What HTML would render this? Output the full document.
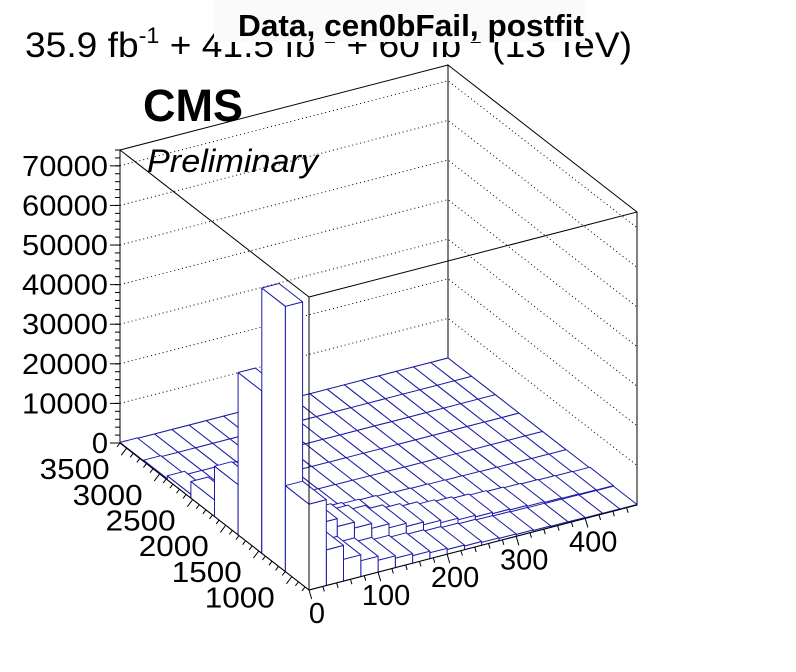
<!DOCTYPE html>
<html><head><meta charset="utf-8"><style>
body{margin:0;background:#fff;}
svg{display:block;font-family:"Liberation Sans",sans-serif;}
</style></head><body>
<svg id="c" width="796" height="672">
<text x="25" y="57" font-size="35" textLength="607" lengthAdjust="spacingAndGlyphs">35.9 fb<tspan dy="-14" font-size="22">-1</tspan><tspan dy="14"> + 41.5 fb</tspan><tspan dy="-14" font-size="22">-1</tspan><tspan dy="14"> + 60 fb</tspan><tspan dy="-14" font-size="22">-1</tspan><tspan dy="14"> (13 TeV)</tspan></text>
<rect x="214" y="0" width="371" height="42" fill="#fafafa"/>
<text x="238" y="36" font-size="31" font-weight="bold" textLength="346" lengthAdjust="spacingAndGlyphs">Data, cen0bFail, postfit</text>
<g id="box"></g>
<g id="bars"></g>
<g id="axes"></g>
<text x="143" y="121" font-size="45" font-weight="bold" textLength="100" lengthAdjust="spacingAndGlyphs">CMS</text>
<text x="147" y="172" font-size="32" font-style="italic" textLength="171" lengthAdjust="spacingAndGlyphs">Preliminary</text>
</svg>
<script>
// data
const xTicks=[0,100,200,300,400];
const yTicks=[1000,1500,2000,2500,3000,3500];
const zTicks=[0,10000,20000,30000,40000,50000,60000,70000];
const nX=19, xMin=0, xMax=475;
const nY=8, yMin=740, yMax=3600;
const zMax=74000;
const row0=[21700,9000,5500,4000,3000,2400,1900,1500,1200,950,750,600,480,380,300,240,190,150,120];
const row1=[67000,13000,10000,8000,6500,5300,4300,3500,2800,2200,1800,1400,1100,900,700,550,430,340,260];
const row2=[41000,3500,2700,2200,1800,1400,1100,900,700,550,450,350,280,220,170,130,100,80,60];
const row3=[12700,600,500,400,300,250,200,150,120,100,80,60,50,40,30,20,20,10,10];
const row4=[4200,300,250,200,150,120,100,80,60,50,40,30,20,20,10,10,10,5,5];
const row5=[1000,100,80,60,50,40,30,20,20,10,10,10,5,5,5,5,5,5,5];
const row6=[300,40,30,20,20,10,10,10,5,5,5,5,5,5,5,5,5,5,5];
const row7=[150,20,15,10,10,5,5,5,5,5,5,5,5,5,5,5,5,5,5];
const rows=[row0,row1,row2,row3,row4,row5,row6,row7];

const O=[309,590], EX=[328,-85], EY=[-189,-147], EZ=[0,-293];
function P(x,y,z){const u=(x-xMin)/(xMax-xMin),v=(y-yMin)/(yMax-yMin),w=z/zMax;
 return [O[0]+u*EX[0]+v*EY[0]+w*EZ[0], O[1]+u*EX[1]+v*EY[1]+w*EZ[1]];}
const NS="http://www.w3.org/2000/svg";
function el(t,a,p){const e=document.createElementNS(NS,t);for(const k in a)e.setAttribute(k,a[k]);p.appendChild(e);return e;}
function pts(a){return a.map(p=>p[0].toFixed(1)+","+p[1].toFixed(1)).join(" ");}
const box=document.getElementById('box'),bars=document.getElementById('bars'),axes=document.getElementById('axes');
let wl=el('polygon',{points:pts([P(xMin,yMax,0),P(xMax,yMax,0),P(xMax,yMax,zMax),P(xMin,yMax,zMax)]),fill:'#fff',stroke:'#000','stroke-width':1},box);


let wr=el('polygon',{points:pts([P(xMax,yMax,0),P(xMax,yMin,0),P(xMax,yMin,zMax),P(xMax,yMax,zMax)]),fill:'#fff',stroke:'#000','stroke-width':1},box);


zTicks.forEach(z=>{if(z===0)return;
 const g=el('polyline',{points:pts([P(xMin,yMax,z),P(xMax,yMax,z),P(xMax,yMin,z)]),fill:'none',stroke:'#000','stroke-width':1,'stroke-dasharray':'1,3'},box);
 
 
});
const dx=(xMax-xMin)/nX, dy=(yMax-yMin)/nY;
for(let i=nX-1;i>=0;i--){for(let j=nY-1;j>=0;j--){
 const h=rows[j][i];const x0=xMin+i*dx,x1=x0+dx,y0=yMin+j*dy,y1=y0+dy;
 const g=el('g',{fill:'#fff',stroke:'#1c1ca8','stroke-width':1,'stroke-linejoin':'round'},bars);
 
 
 el('polygon',{points:pts([P(x0,y0,0),P(x0,y1,0),P(x0,y1,h),P(x0,y0,h)])},g);
 el('polygon',{points:pts([P(x0,y0,0),P(x1,y0,0),P(x1,y0,h),P(x0,y0,h)])},g);
 el('polygon',{points:pts([P(x0,y0,h),P(x1,y0,h),P(x1,y1,h),P(x0,y1,h)])},g);
}}
[[P(xMin,yMin,0),P(xMin,yMin,zMax)],[P(xMin,yMax,zMax),P(xMin,yMin,zMax)],[P(xMin,yMin,zMax),P(xMax,yMin,zMax)]].forEach(s=>{
 const l=el('line',{x1:s[0][0],y1:s[0][1],x2:s[1][0],y2:s[1][1],stroke:'#000','stroke-width':1},box.parentNode);
 
 
});
zTicks.forEach(z=>{const p=P(xMin,yMax,z);
 el('line',{x1:p[0]-10,y1:p[1],x2:p[0],y2:p[1],stroke:'#000'},axes);
 const t=el('text',{x:p[0]-12,y:p[1]+10,'font-size':29,'text-anchor':'end',textLength:86,lengthAdjust:'spacingAndGlyphs'},axes);t.textContent=z;
 if(z===0){t.removeAttribute('textLength');}
 
 
});
for(let z=0;z<=zMax;z+=2000){const p=P(xMin,yMax,z);el('line',{x1:p[0]-5,y1:p[1],x2:p[0],y2:p[1],stroke:'#000'},axes);}
let ya=el('line',{x1:P(xMin,yMin,0)[0],y1:P(xMin,yMin,0)[1],x2:P(xMin,yMax,0)[0],y2:P(xMin,yMax,0)[1],stroke:'#000'},axes);


for(let y=800;y<=yMax;y+=100){const p=P(xMin,y,0);const L=(y%500===0)?9:5;el('line',{x1:p[0],y1:p[1],x2:p[0]-L*0.6,y2:p[1]+L*0.8,stroke:'#000'},axes);}
yTicks.forEach(y=>{const p=P(xMin,y,0);
 const t=el('text',{x:p[0]-17,y:p[1]+31,'font-size':29,'text-anchor':'end',textLength:70,lengthAdjust:'spacingAndGlyphs'},axes);t.textContent=y;
 
 
});
let xa=el('line',{x1:P(xMin,yMin,0)[0],y1:P(xMin,yMin,0)[1],x2:P(xMax,yMin,0)[0],y2:P(xMax,yMin,0)[1],stroke:'#000'},axes);


for(let x=0;x<=xMax;x+=20){const p=P(x,yMin,0);const L=(x%100===0)?9:5;el('line',{x1:p[0],y1:p[1],x2:p[0]+L*0.3,y2:p[1]+L,stroke:'#000'},axes);}
xTicks.forEach(x=>{const p=P(x,yMin,0);
 const t=el('text',{x:p[0]+8,y:p[1]+33,'font-size':29,'text-anchor':'middle'},axes);t.textContent=x;
 
 
});
</script>
</body></html>
